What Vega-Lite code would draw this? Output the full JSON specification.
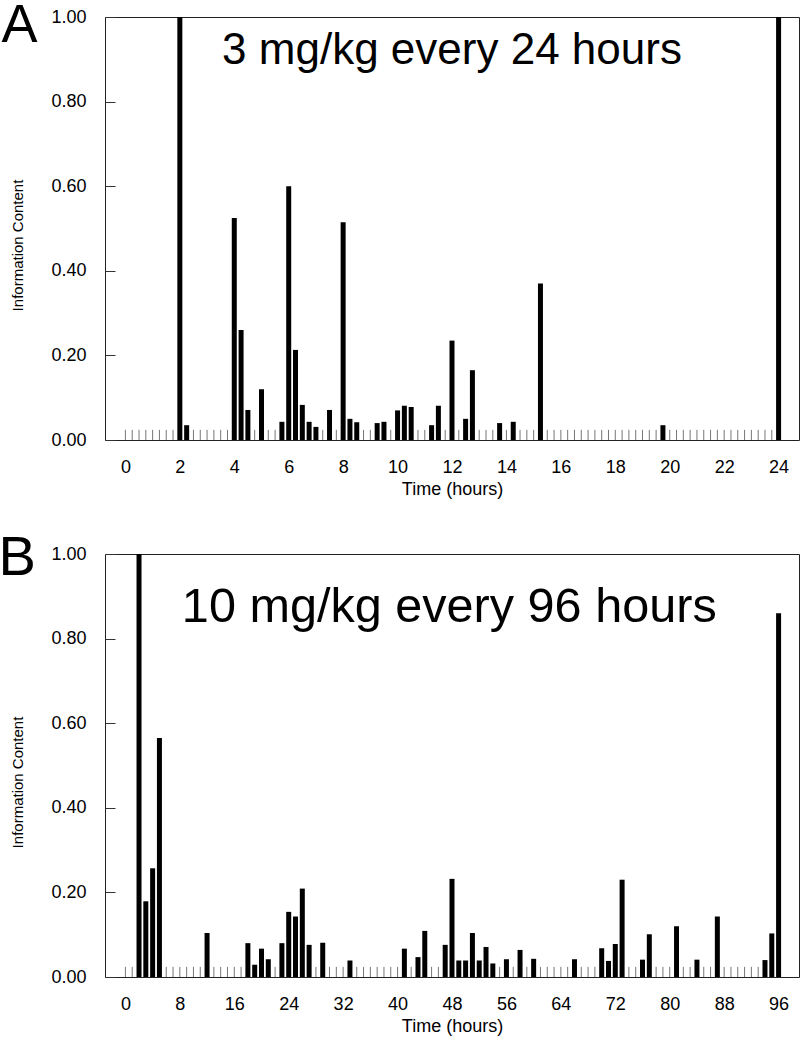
{
  "$schema": "https://vega.github.io/schema/vega-lite/v6.json",
  "padding": {"top": -2, "left": -2, "right": 0, "bottom": 0},
  "bounds": "flush",
  "spacing": 114,
  "config": {
    "font": "Liberation Sans",
    "view": {"stroke": "#222", "strokeWidth": 1},
    "scale": {"continuousPadding": 0},
    "axis": {"grid": false, "domain": false, "labelFont": "Liberation Sans", "titleFont": "Liberation Sans", "labelFontSize": 18, "labelColor": "#000", "titleColor": "#000", "titleFontWeight": "normal"}
  },
  "datasets": {
    "a": [
      {"t":0,"v":0},{"t":0.25,"v":0},{"t":0.5,"v":0},{"t":0.75,"v":0},{"t":1,"v":0},{"t":1.25,"v":0},{"t":1.5,"v":0},{"t":1.75,"v":0},
      {"t":2,"v":1},{"t":2.25,"v":0.035},{"t":2.5,"v":0},{"t":2.75,"v":0},{"t":3,"v":0},{"t":3.25,"v":0},{"t":3.5,"v":0},{"t":3.75,"v":0},
      {"t":4,"v":0.525},{"t":4.25,"v":0.26},{"t":4.5,"v":0.071},{"t":4.75,"v":0},{"t":5,"v":0.12},{"t":5.25,"v":0},{"t":5.5,"v":0},{"t":5.75,"v":0.043},
      {"t":6,"v":0.6},{"t":6.25,"v":0.213},{"t":6.5,"v":0.083},{"t":6.75,"v":0.043},{"t":7,"v":0.031},{"t":7.25,"v":0},{"t":7.5,"v":0.071},{"t":7.75,"v":0},
      {"t":8,"v":0.515},{"t":8.25,"v":0.05},{"t":8.5,"v":0.042},{"t":8.75,"v":0},{"t":9,"v":0},{"t":9.25,"v":0.04},{"t":9.5,"v":0.043},{"t":9.75,"v":0},
      {"t":10,"v":0.07},{"t":10.25,"v":0.081},{"t":10.5,"v":0.078},{"t":10.75,"v":0},{"t":11,"v":0},{"t":11.25,"v":0.035},{"t":11.5,"v":0.081},{"t":11.75,"v":0},
      {"t":12,"v":0.235},{"t":12.25,"v":0},{"t":12.5,"v":0.05},{"t":12.75,"v":0.165},{"t":13,"v":0},{"t":13.25,"v":0},{"t":13.5,"v":0},{"t":13.75,"v":0.04},
      {"t":14,"v":0},{"t":14.25,"v":0.043},{"t":14.5,"v":0},{"t":14.75,"v":0},{"t":15,"v":0},{"t":15.25,"v":0.37},{"t":15.5,"v":0},{"t":15.75,"v":0},
      {"t":16,"v":0},{"t":16.25,"v":0},{"t":16.5,"v":0},{"t":16.75,"v":0},{"t":17,"v":0},{"t":17.25,"v":0},{"t":17.5,"v":0},{"t":17.75,"v":0},
      {"t":18,"v":0},{"t":18.25,"v":0},{"t":18.5,"v":0},{"t":18.75,"v":0},{"t":19,"v":0},{"t":19.25,"v":0},{"t":19.5,"v":0},{"t":19.75,"v":0.035},
      {"t":20,"v":0},{"t":20.25,"v":0},{"t":20.5,"v":0},{"t":20.75,"v":0},{"t":21,"v":0},{"t":21.25,"v":0},{"t":21.5,"v":0},{"t":21.75,"v":0},
      {"t":22,"v":0},{"t":22.25,"v":0},{"t":22.5,"v":0},{"t":22.75,"v":0},{"t":23,"v":0},{"t":23.25,"v":0},{"t":23.5,"v":0},{"t":23.75,"v":0},
      {"t":24,"v":1}
    ],
    "b": [
      {"t":0,"v":0},{"t":1,"v":0},{"t":2,"v":1},{"t":3,"v":0.179},{"t":4,"v":0.257},{"t":5,"v":0.565},{"t":6,"v":0},{"t":7,"v":0},
      {"t":8,"v":0},{"t":9,"v":0},{"t":10,"v":0},{"t":11,"v":0},{"t":12,"v":0.104},{"t":13,"v":0},{"t":14,"v":0},{"t":15,"v":0},
      {"t":16,"v":0},{"t":17,"v":0},{"t":18,"v":0.08},{"t":19,"v":0.029},{"t":20,"v":0.067},{"t":21,"v":0.042},{"t":22,"v":0},{"t":23,"v":0.08},
      {"t":24,"v":0.154},{"t":25,"v":0.143},{"t":26,"v":0.209},{"t":27,"v":0.076},{"t":28,"v":0},{"t":29,"v":0.081},{"t":30,"v":0},{"t":31,"v":0},
      {"t":32,"v":0},{"t":33,"v":0.039},{"t":34,"v":0},{"t":35,"v":0},{"t":36,"v":0},{"t":37,"v":0},{"t":38,"v":0},{"t":39,"v":0},
      {"t":40,"v":0},{"t":41,"v":0.067},{"t":42,"v":0},{"t":43,"v":0.047},{"t":44,"v":0.109},{"t":45,"v":0},{"t":46,"v":0},{"t":47,"v":0.076},
      {"t":48,"v":0.232},{"t":49,"v":0.039},{"t":50,"v":0.039},{"t":51,"v":0.104},{"t":52,"v":0.039},{"t":53,"v":0.071},{"t":54,"v":0.032},{"t":55,"v":0},
      {"t":56,"v":0.042},{"t":57,"v":0},{"t":58,"v":0.064},{"t":59,"v":0},{"t":60,"v":0.043},{"t":61,"v":0},{"t":62,"v":0},{"t":63,"v":0},
      {"t":64,"v":0},{"t":65,"v":0},{"t":66,"v":0.042},{"t":67,"v":0},{"t":68,"v":0},{"t":69,"v":0},{"t":70,"v":0.068},{"t":71,"v":0.038},
      {"t":72,"v":0.078},{"t":73,"v":0.23},{"t":74,"v":0},{"t":75,"v":0},{"t":76,"v":0.041},{"t":77,"v":0.101},{"t":78,"v":0},{"t":79,"v":0},
      {"t":80,"v":0},{"t":81,"v":0.12},{"t":82,"v":0},{"t":83,"v":0},{"t":84,"v":0.041},{"t":85,"v":0},{"t":86,"v":0},{"t":87,"v":0.143},
      {"t":88,"v":0},{"t":89,"v":0},{"t":90,"v":0},{"t":91,"v":0},{"t":92,"v":0},{"t":93,"v":0},{"t":94,"v":0.04},{"t":95,"v":0.103},
      {"t":96,"v":0.86}
    ]
  },
  "vconcat": [
    {
      "width": 694,
      "height": 423,
      "data": {"name": "a"},
      "layer": [
        {
          "mark": {"type": "rule", "color": "#777", "strokeWidth": 1},
          "encoding": {
            "x": {"field": "t", "type": "quantitative", "scale": {"domain": [-0.75, 24.75], "nice": false, "zero": false, "padding": 0},
                  "axis": {"values": [0,2,4,6,8,10,12,14,16,18,20,22,24], "ticks": false, "tickSize": 0, "labelPadding": 18, "title": "Time (hours)", "titleFontSize": 18, "titlePadding": 4}},
            "y": {"datum": 0, "type": "quantitative", "scale": {"domain": [0, 1], "nice": false, "padding": 0},
                  "axis": {"values": [0,0.2,0.4,0.6,0.8,1], "format": ".2f", "tickSize": -10, "tickColor": "#333", "labelPadding": 29, "title": "Information Content", "titleFontSize": 15, "titlePadding": 25, "titleY": 228}},
            "y2": {"datum": 0.024}
          }
        },
        {
          "mark": {"type": "bar", "color": "#000", "size": 5},
          "encoding": {
            "x": {"field": "t", "type": "quantitative", "scale": {"domain": [-0.75, 24.75], "nice": false, "zero": false, "padding": 0}},
            "y": {"field": "v", "type": "quantitative", "scale": {"domain": [0, 1], "nice": false, "padding": 0}}
          }
        },
        {
          "data": {"values": [{}]},
          "mark": {"type": "text", "text": "3 mg/kg every 24 hours", "fontSize": 44, "font": "Liberation Sans", "color": "#000", "align": "center", "baseline": "alphabetic"},
          "encoding": {
            "x": {"datum": 12, "type": "quantitative", "scale": {"domain": [-0.75, 24.75], "nice": false, "zero": false, "padding": 0}},
            "y": {"datum": 0.889, "type": "quantitative", "scale": {"domain": [0, 1], "nice": false, "padding": 0}}
          }
        },
        {
          "data": {"values": [{}]},
          "mark": {"type": "text", "text": "A", "fontSize": 54, "font": "Liberation Sans", "color": "#000", "align": "center", "baseline": "alphabetic"},
          "encoding": {
            "x": {"datum": -3.89, "type": "quantitative", "scale": {"domain": [-0.75, 24.75], "nice": false, "zero": false, "padding": 0}},
            "y": {"datum": 0.942, "type": "quantitative", "scale": {"domain": [0, 1], "nice": false, "padding": 0}}
          }
        }
      ]
    },
    {
      "width": 694,
      "height": 423,
      "data": {"name": "b"},
      "layer": [
        {
          "mark": {"type": "rule", "color": "#777", "strokeWidth": 1},
          "encoding": {
            "x": {"field": "t", "type": "quantitative", "scale": {"domain": [-3, 99], "nice": false, "zero": false, "padding": 0},
                  "axis": {"values": [0,8,16,24,32,40,48,56,64,72,80,88,96], "ticks": false, "tickSize": 0, "labelPadding": 18, "title": "Time (hours)", "titleFontSize": 18, "titlePadding": 4}},
            "y": {"datum": 0, "type": "quantitative", "scale": {"domain": [0, 1], "nice": false, "padding": 0},
                  "axis": {"values": [0,0.2,0.4,0.6,0.8,1], "format": ".2f", "tickSize": -10, "tickColor": "#333", "labelPadding": 29, "title": "Information Content", "titleFontSize": 15, "titlePadding": 25, "titleY": 228}},
            "y2": {"datum": 0.024}
          }
        },
        {
          "mark": {"type": "bar", "color": "#000", "size": 5},
          "encoding": {
            "x": {"field": "t", "type": "quantitative", "scale": {"domain": [-3, 99], "nice": false, "zero": false, "padding": 0}},
            "y": {"field": "v", "type": "quantitative", "scale": {"domain": [0, 1], "nice": false, "padding": 0}}
          }
        },
        {
          "data": {"values": [{}]},
          "mark": {"type": "text", "text": "10 mg/kg every 96 hours", "fontSize": 48.6, "font": "Liberation Sans", "color": "#000", "align": "center", "baseline": "alphabetic"},
          "encoding": {
            "x": {"datum": 47.6, "type": "quantitative", "scale": {"domain": [-3, 99], "nice": false, "zero": false, "padding": 0}},
            "y": {"datum": 0.84, "type": "quantitative", "scale": {"domain": [0, 1], "nice": false, "padding": 0}}
          }
        },
        {
          "data": {"values": [{}]},
          "mark": {"type": "text", "text": "B", "fontSize": 56, "font": "Liberation Sans", "color": "#000", "align": "center", "baseline": "alphabetic"},
          "encoding": {
            "x": {"datum": -15.9, "type": "quantitative", "scale": {"domain": [-3, 99], "nice": false, "zero": false, "padding": 0}},
            "y": {"datum": 0.95, "type": "quantitative", "scale": {"domain": [0, 1], "nice": false, "padding": 0}}
          }
        }
      ]
    }
  ]
}
